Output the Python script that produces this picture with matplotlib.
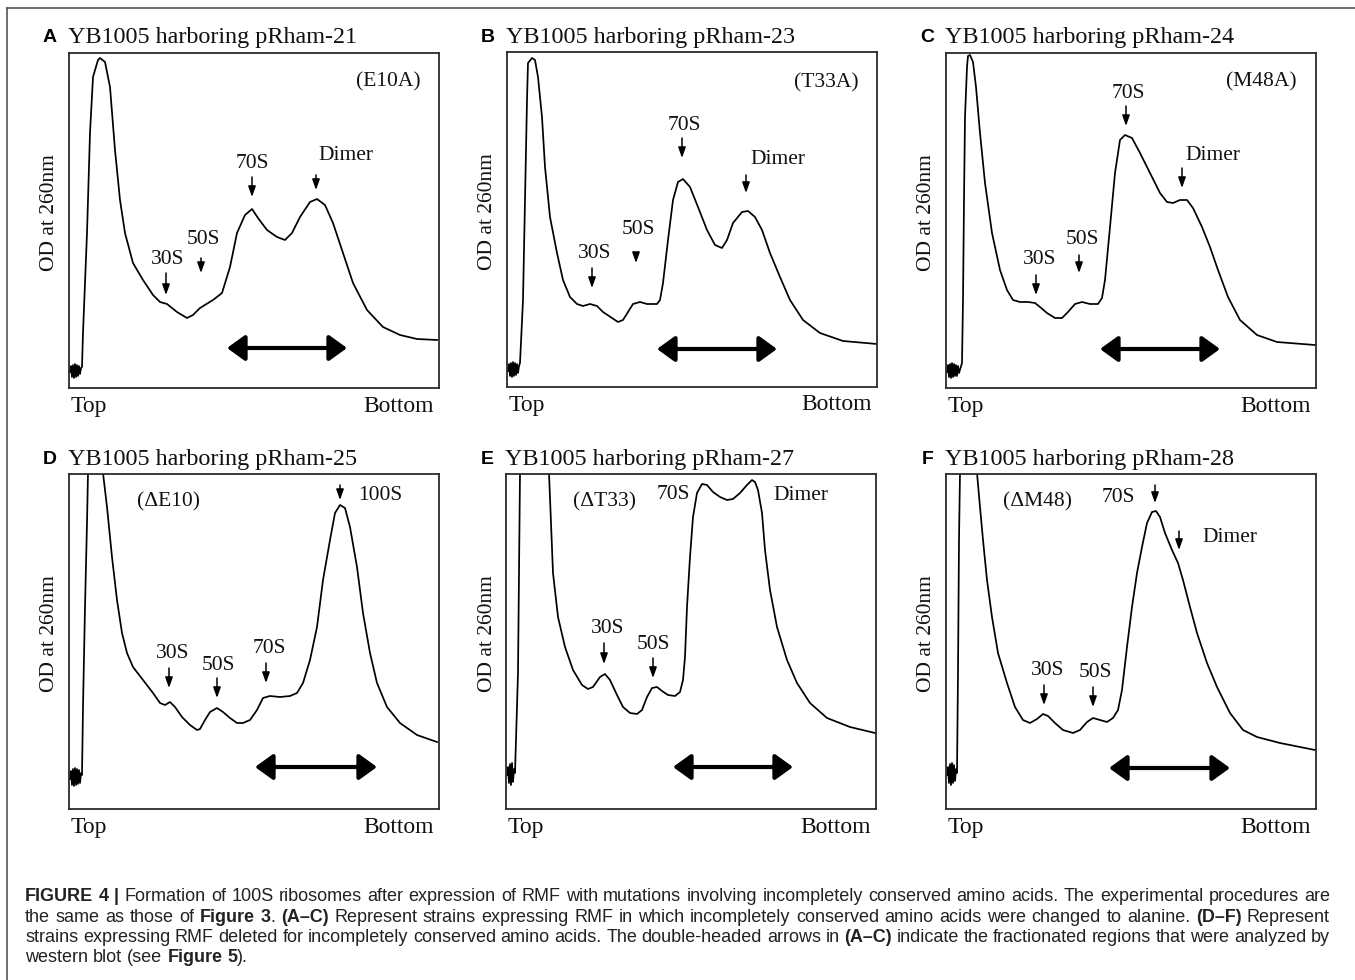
import matplotlib
matplotlib.use("Agg")
import matplotlib.pyplot as plt
from matplotlib.patches import FancyArrowPatch
from matplotlib.lines import Line2D

# ---- sucrose-gradient profiles (x = position along gradient, y = OD260, arbitrary units)
A_X = [1, 2, 3, 4, 5, 6, 7, 8, 9, 10, 11, 12, 13, 14, 18, 21, 24, 29, 31, 36, 41, 46, 51, 56,
       64, 74, 84, 91, 98, 108, 118, 124, 131, 144, 153, 161, 168, 176, 183, 189, 198, 208, 216, 223,
       231, 241, 248, 256, 264, 274, 284, 298, 314, 331, 348, 368]
A_Y = [16, 22, 11, 23, 10, 24, 11, 23, 12, 22, 14, 20, 21, 55, 155, 255, 311, 328, 330, 326, 301, 238, 188, 155,
       125, 108, 93, 86, 84, 76, 70, 73, 80, 88, 95, 121, 155, 173, 179, 170, 158, 151, 148, 155,
       171, 186, 189, 183, 165, 135, 105, 78, 61, 53, 49, 48]

B_X = [1, 2, 3, 4, 5, 6, 7, 8, 9, 10, 11, 12, 13, 16, 18, 20, 21, 25, 28, 31, 35, 38,
       43, 50, 56, 63, 70, 76, 83, 90, 96, 105, 111, 116, 121, 126, 133, 140, 150, 153, 156, 161,
       166, 171, 176, 183, 191, 200, 208, 215, 220, 226, 235, 241, 248, 255, 263, 273, 283, 296, 313, 336, 370]
B_Y = [16, 23, 11, 24, 10, 25, 11, 24, 12, 23, 14, 21, 24, 87, 187, 287, 324, 329, 327, 310, 270, 220,
       170, 134, 107, 90, 83, 81, 83, 81, 75, 69, 65, 67, 75, 83, 85, 83, 83, 87, 104, 147,
       187, 205, 208, 200, 180, 157, 142, 139, 147, 164, 175, 176, 170, 157, 134, 110, 87, 67, 54, 46, 43]

C_X = [1, 2, 3, 4, 5, 6, 7, 8, 9, 10, 11, 12, 13, 16, 17, 18, 19, 21, 22, 24, 27, 30, 34,
       39, 46, 54, 61, 67, 74, 82, 89, 94, 101, 109, 116, 122, 129, 136, 144, 152, 156, 159, 164,
       169, 174, 179, 186, 194, 204, 214, 221, 227, 234, 241, 247, 256, 264, 272, 282, 294, 311, 331, 369]
C_Y = [16, 23, 11, 24, 10, 25, 11, 24, 12, 23, 12, 22, 15, 25, 88, 188, 271, 321, 332, 333, 326, 301, 255,
       205, 155, 118, 98, 88, 86, 86, 85, 81, 75, 70, 70, 76, 84, 86, 84, 84, 90, 108, 161,
       215, 248, 253, 250, 235, 215, 195, 186, 185, 188, 188, 180, 161, 141, 118, 91, 68, 53, 46, 43]

D_X = [1, 2, 3, 4, 5, 6, 7, 8, 9, 10, 11, 12, 13, 14, 16, 18, 19, 22, 27, 31, 34, 38, 43,
       48, 53, 58, 64, 74, 84, 91, 96, 101, 106, 113, 121, 128, 131, 136, 141, 148, 154, 161, 168,
       174, 181, 188, 194, 201, 211, 221, 228, 234, 241, 248, 254, 261, 266, 271, 276, 281, 288, 294, 301,
       308, 318, 331, 348, 368]
D_Y = [30, 38, 24, 40, 23, 41, 24, 40, 25, 39, 26, 36, 34, 102, 202, 286, 336, 369, 389, 369, 336, 302, 252,
       209, 176, 156, 142, 129, 116, 106, 104, 107, 102, 92, 84, 79, 80, 89, 97, 101, 97, 91, 86,
       86, 89, 99, 111, 113, 112, 113, 116, 126, 149, 182, 229, 269, 296, 304, 301, 282, 242, 196, 156,
       126, 102, 86, 74, 67]

E_X = [1, 2, 3, 4, 5, 6, 7, 8, 9, 12, 13, 14, 15, 22, 32, 41, 43, 45, 47,
       52, 59, 67, 76, 82, 87, 94, 99, 104, 111, 117, 124, 131, 136, 141, 146, 151, 156, 162, 169,
       174, 177, 179, 181, 184, 187, 191, 196, 201, 207, 214, 221, 227, 234, 241, 246, 249, 252, 256, 259,
       264, 271, 281, 291, 304, 321, 344, 369]
E_Y = [34, 42, 26, 45, 24, 46, 27, 40, 36, 136, 236, 336, 369, 410, 410, 369, 336, 286, 236,
       192, 162, 139, 124, 120, 122, 132, 135, 129, 114, 102, 96, 95, 99, 112, 121, 122, 118, 114, 113,
       117, 129, 152, 202, 252, 292, 316, 325, 324, 317, 312, 309, 310, 316, 324, 329, 327, 319, 296, 259,
       219, 182, 149, 126, 106, 91, 82, 76]

F_X = [1, 2, 3, 4, 5, 6, 7, 8, 9, 10, 11, 12, 13, 14, 15, 18, 28, 29, 31, 34, 37,
       41, 46, 52, 61, 69, 77, 84, 91, 97, 102, 109, 117, 127, 134, 141, 147, 154, 161, 167, 172,
       176, 181, 186, 191, 196, 201, 206, 210, 214, 219, 226, 232, 237, 244, 251, 261, 271, 284, 297, 311,
       334, 369]
F_Y = [34, 42, 26, 45, 24, 46, 26, 44, 28, 40, 36, 136, 269, 336, 369, 410, 410, 369, 336, 302, 269,
       229, 192, 156, 126, 102, 89, 86, 90, 95, 93, 86, 79, 76, 79, 87, 91, 89, 87, 91, 99,
       119, 162, 202, 236, 262, 286, 297, 298, 292, 276, 259, 246, 229, 202, 176, 146, 122, 96, 79, 72,
       66, 59]

LETTERS = ["A", "B", "C", "D", "E", "F"]
TITLES = ["YB1005 harboring pRham-21", "YB1005 harboring pRham-23", "YB1005 harboring pRham-24",
          "YB1005 harboring pRham-25", "YB1005 harboring pRham-27", "YB1005 harboring pRham-28"]

# peak labels: (text, x, y, ha)
A_NOTES = [("(E10A)", 352, 306, "right"), ("30S", 99, 128, "center"), ("50S", 134, 149, "center"),
           ("70S", 183, 225, "center"), ("Dimer", 249, 233, "left")]
B_NOTES = [("(T33A)", 352, 304, "right"), ("30S", 88, 134, "center"), ("50S", 131, 158, "center"),
           ("70S", 177, 261, "center"), ("Dimer", 243, 227, "left")]
C_NOTES = [("(M48A)", 351, 306, "right"), ("30S", 94, 128, "center"), ("50S", 136, 149, "center"),
           ("70S", 182, 295, "center"), ("Dimer", 239, 233, "left")]
D_NOTES = [("(\u0394E10)", 99, 307, "center"), ("100S", 289, 314, "left"), ("30S", 104, 156, "center"),
           ("50S", 149, 144, "center"), ("70S", 200, 161, "center")]
E_NOTES = [("(\u0394T33)", 98, 307, "center"), ("70S", 167, 315, "center"), ("Dimer", 267, 314, "left"),
           ("30S", 102, 181, "center"), ("50S", 147, 165, "center")]
F_NOTES = [("(\u0394M48)", 92, 307, "center"), ("70S", 172, 312, "center"), ("Dimer", 256, 272, "left"),
           ("30S", 102, 139, "center"), ("50S", 149, 137, "center")]

# small down arrows: (x, y_from, y_to)
A_MARKS = [(97, 115, 93), (132, 130, 115), (183, 211, 191), (247, 213, 198)]
B_MARKS = [(85, 119, 99), (129, 134, 124), (175, 249, 229), (239, 212, 194)]
C_MARKS = [(90, 113, 93), (133, 133, 115), (180, 282, 262), (236, 220, 200)]
D_MARKS = [(271, 324, 309), (100, 141, 121), (148, 131, 111), (197, 146, 126)]
E_MARKS = [(98, 166, 145), (147, 151, 131)]
F_MARKS = [(209, 324, 306), (233, 278, 259), (98, 124, 104), (147, 122, 102)]

# fractionated region (double-headed arrow): (x_start, x_end, y)
SPANS = [(158, 278, 40), (150, 270, 38), (154, 274, 39), (186, 308, 42), (167, 287, 42), (163, 284, 41)]

CAPTION = [
    "**FIGURE 4 |** Formation of 100S ribosomes after expression of RMF with mutations involving "
    "incompletely conserved amino acids. The experimental procedures are",
    "the same as those of **Figure 3**. **(A\u2013C)** Represent strains expressing RMF in which incompletely "
    "conserved amino acids were changed to alanine. **(D\u2013F)** Represent",
    "strains expressing RMF deleted for incompletely conserved amino acids. The double-headed arrows in "
    "**(A\u2013C)** indicate the fractionated regions that were analyzed by",
    "western blot (see **Figure 5**).",
]

W, H = 1355, 980
SERIF = "Liberation Serif"
SANS = "Liberation Sans"


def fx(px):
    return px / W


def fy(py):
    return 1 - py / H


fig = plt.figure(figsize=(W / 100, H / 100), dpi=100)
fig.patch.set_facecolor("white")

# outer frame (left and top edges visible)
fig.add_artist(Line2D([fx(7), fx(7)], [fy(8), fy(H + 5)], color="#555555", lw=1.2))
fig.add_artist(Line2D([fx(7), fx(W + 5)], [fy(8), fy(8)], color="#555555", lw=1.2))

boxes = [(69, 53), (507, 52), (946, 53), (69, 474), (506, 474), (946, 474)]
AW, AH = 370, 335
curves = [(A_X, A_Y), (B_X, B_Y), (C_X, C_Y), (D_X, D_Y), (E_X, E_Y), (F_X, F_Y)]
notes = [A_NOTES, B_NOTES, C_NOTES, D_NOTES, E_NOTES, F_NOTES]
marks = [A_MARKS, B_MARKS, C_MARKS, D_MARKS, E_MARKS, F_MARKS]

for i in range(6):
    left, top = boxes[i]
    ax = fig.add_axes([fx(left), fy(top + AH), AW / W, AH / H])
    ax.set_xlim(0, AW)
    ax.set_ylim(0, AH)
    ax.set_xticks([])
    ax.set_yticks([])
    for sp in ax.spines.values():
        sp.set_linewidth(1.3)
        sp.set_color("#2b2b2b")
    xs, ys = curves[i]
    ax.plot(xs, ys, color="black", lw=1.25, solid_joinstyle="round")

    for txt, x, y, ha in notes[i]:
        ax.text(x, y, txt, ha=ha, va="center", family=SERIF, fontsize=15.5, color="#111111")
    for x, y0, y1 in marks[i]:
        ax.annotate("", xy=(x, y1), xytext=(x, y0),
                    arrowprops=dict(arrowstyle="-|>,head_length=0.45,head_width=0.16",
                                    mutation_scale=14, lw=1.1, color="black",
                                    shrinkA=0, shrinkB=0))
    x0, x1, yy = SPANS[i]
    ax.add_patch(FancyArrowPatch((x0, yy), (x1, yy),
                                 arrowstyle="<|-|>,head_length=0.9,head_width=0.65",
                                 mutation_scale=12, lw=3, color="black",
                                 shrinkA=0, shrinkB=0))

    fig.text(fx(left - 12), fy(top - 15), LETTERS[i], ha="right", va="center",
             family=SANS, fontweight="bold", fontsize=14)
    fig.text(fx(left - 1), fy(top - 15), TITLES[i], ha="left", va="center",
             family=SERIF, fontsize=17.4, color="#111111")
    fig.text(fx(left + 2), fy(top + AH + 18), "Top", ha="left", va="center",
             family=SERIF, fontsize=17, color="#111111")
    fig.text(fx(left + AW - 5), fy(top + AH + 18), "Bottom", ha="right", va="center",
             family=SERIF, fontsize=17, color="#111111")
    fig.text(fx(left - 19), fy(top + AH * 0.475), "OD at 260nm", rotation=90,
             ha="center", va="center", family=SERIF, fontsize=15.5, color="#111111")


# ---- caption, justified word by word
def parse(line):
    runs = []
    bold = False
    for part in line.split("**"):
        if part:
            runs.append((part, bold))
        bold = not bold
    words = [[]]
    for text, b in runs:
        for j, ch in enumerate(text.split(" ")):
            if j > 0:
                words.append([])
            if ch:
                words[-1].append((ch, b))
    return [w for w in words if w]


renderer = fig.canvas.get_renderer()
CAP_SIZE = 13
CAP_LEFT, CAP_RIGHT = 25, 1330
cap_y = [896, 917, 937, 957]
space_w = CAP_SIZE * 100 / 72 * 0.278

for n, line in enumerate(CAPTION):
    items = []
    for w in parse(line):
        objs = []
        width = 0
        for piece, b in w:
            t = fig.text(0, fy(cap_y[n]), piece, ha="left", va="center", family=SANS,
                         fontsize=CAP_SIZE, fontweight="bold" if b else "normal", color="#222222")
            wd = t.get_window_extent(renderer).width
            objs.append((t, wd))
            width += wd
        items.append((objs, width))
    total = sum(it[1] for it in items)
    if n < len(CAPTION) - 1:
        gap = max(space_w * 0.5, (CAP_RIGHT - CAP_LEFT - total) / (len(items) - 1))
    else:
        gap = space_w
    x = CAP_LEFT
    for objs, wd in items:
        for t, w in objs:
            t.set_x(fx(x))
            x += w
        x += gap

fig.savefig("out.png", dpi=100, facecolor="white")
